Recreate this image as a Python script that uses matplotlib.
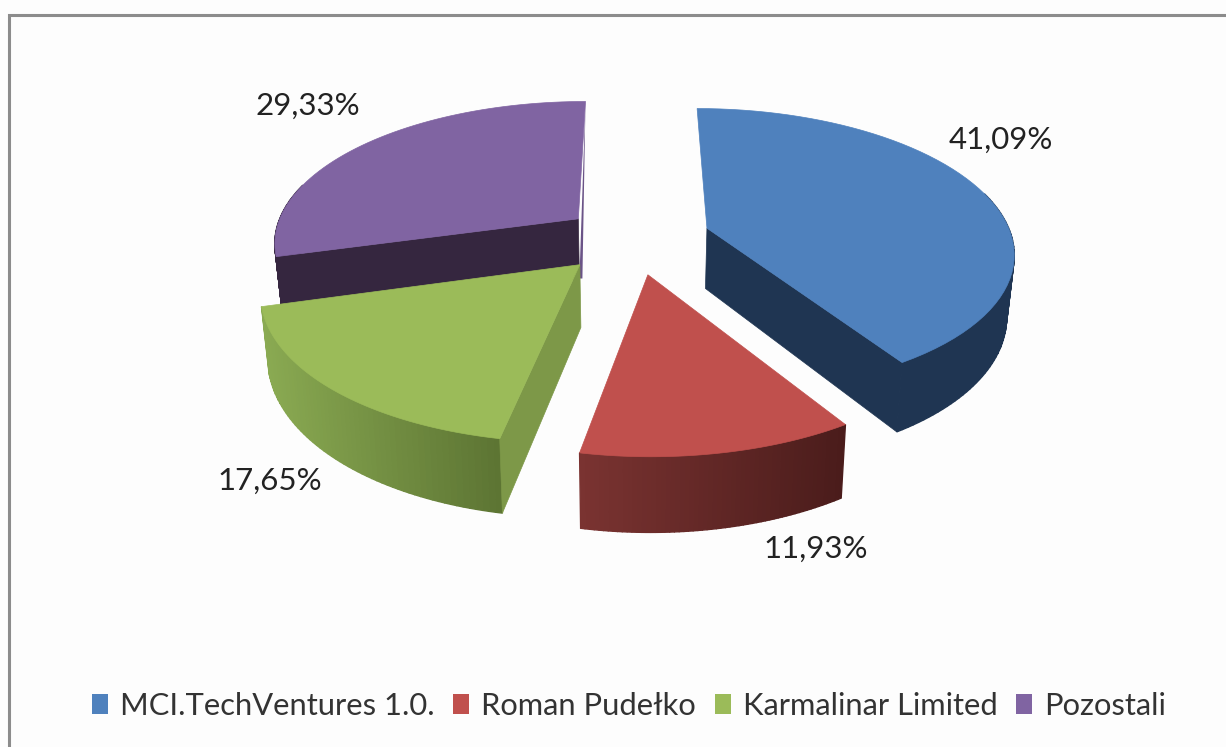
import matplotlib
matplotlib.use("Agg")
import matplotlib.pyplot as plt
import numpy as np
from matplotlib.colors import to_rgb
from matplotlib.patches import Patch, Polygon

names = ["MCI.TechVentures 1.0.", "Roman Pudełko", "Karmalinar Limited", "Pozostali"]
shares = [41.09, 11.93, 17.65, 29.33]

top_colors = ["#4f81bd", "#c0504d", "#9bbb59", "#8064a2"]
face_colors = ["#1f3552", "#5a2422", "#7d9848", "#35263f"]
wall_left = ["#1f3552", "#7a3331", "#8aaa52", "#35263f"]
wall_right = ["#1f3552", "#4a1c1b", "#5c7433", "#35263f"]
explode = [0.255, 0.255, 0.25, 0.23]
cut_face = ["end", None, "start", "start"]
label_pos = [(1001, 140), (816, 549), (270, 481), (308, 106)]

# fake 3d pie, same kind of perspective as the excel one
cx, cy = 633, 238
rx, ry = 305, 141
persp = 0.155
depth = 61


def project(u, v, h=0.0):
    s = 1 / (1 - persp * v)
    x = cx + rx * u * s * (1 - 0.02 * h)
    y = cy + ry * v * s + depth * h * s
    return x, y


def rim(start, end, off, h=0.0, n=60):
    t = np.linspace(start, end, n)
    return project(off[0] + np.sin(t), off[1] - np.cos(t), h)


fig = plt.figure(figsize=(12.26, 7.47), dpi=100, facecolor="#fdfdfd")
ax = fig.add_axes([0, 0, 1, 1])
ax.set_xlim(0, 1226)
ax.set_ylim(747, 0)
ax.axis("off")

ax.plot([9, 9, 1226], [747, 15, 15], color="#8c8c8c", lw=2.2, solid_joinstyle="miter")

edges = 2 * np.pi * np.cumsum([0] + shares) / sum(shares)
offs = []
for i in range(len(shares)):
    mid = (edges[i] + edges[i + 1]) / 2
    offs.append((explode[i] * np.sin(mid), -explode[i] * np.cos(mid)))

for i in [3, 0, 2, 1]:
    start, end, off = edges[i], edges[i + 1], offs[i]

    # outer wall, only the part facing us
    w0, w1 = max(start, np.radians(75)), min(end, np.radians(285))
    if w1 > w0:
        xt, yt = rim(w0, w1, off)
        xb, yb = rim(w0, w1, off, 1)
        c0, c1 = np.array(to_rgb(wall_left[i])), np.array(to_rgb(wall_right[i]))
        lo, hi = xt.min(), xt.max()
        for j in range(len(xt) - 1):
            f = ((xt[j] + xt[j + 1]) / 2 - lo) / (hi - lo)
            col = c0 + (c1 - c0) * f
            ax.add_patch(Polygon([(xt[j], yt[j]), (xt[j + 1], yt[j + 1]), (xb[j + 1], yb[j + 1]), (xb[j], yb[j])],
                                 fc=col, ec=col, lw=1.0))

    # thin bit of the back cut that shows next to the purple slice
    if i == 3:
        b = project(off[0], off[1] - 1)
        a = project(off[0], off[1], 1)
        ax.add_patch(Polygon([b, (a[0] + 3, a[1]), a], fc="#6a5387", ec="none"))

    # cut face
    if cut_face[i]:
        t = start if cut_face[i] == "start" else end
        a0 = project(off[0], off[1])
        a1 = project(off[0], off[1], 1)
        b0 = project(off[0] + np.sin(t), off[1] - np.cos(t))
        b1 = project(off[0] + np.sin(t), off[1] - np.cos(t), 1)
        ax.add_patch(Polygon([a0, b0, b1, a1], fc=face_colors[i], ec=face_colors[i], lw=0.5))

    # top
    xr, yr = rim(start, end, off)
    apex = project(off[0], off[1])
    pts = [apex] + list(zip(xr, yr))
    ax.add_patch(Polygon(pts, fc=top_colors[i], ec=top_colors[i], lw=0.5))

    lx, ly = label_pos[i]
    ax.text(lx, ly, f"{shares[i]:.2f}%".replace(".", ","), family="Lato", fontsize=22.5,
            color="#222222", ha="center", va="center")

handles = [Patch(fc=c, ec="none") for c in top_colors]
ax.legend(handles, names, loc="center", bbox_to_anchor=(629 / 1226, 1 - 706 / 747), ncol=4,
          frameon=False, prop={"family": "Lato", "size": 22.2}, labelcolor="#333333",
          handlelength=0.52, handleheight=0.65, handletextpad=0.4, columnspacing=0.6)

fig.savefig("out.png", dpi=100, facecolor=fig.get_facecolor())
